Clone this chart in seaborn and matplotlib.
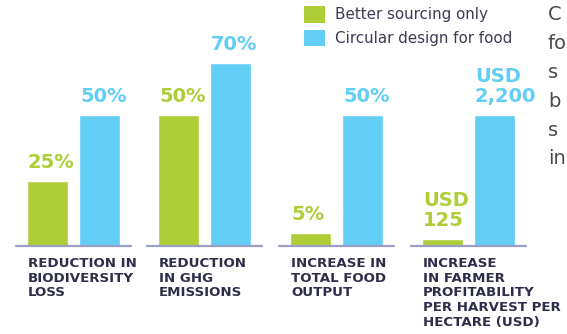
import matplotlib
matplotlib.use("Agg")
import matplotlib.pyplot as plt
from matplotlib.patches import Patch
import seaborn as sns
import pandas as pd

# ---- data ----
categories = [
    "REDUCTION IN\nBIODIVERSITY\nLOSS",
    "REDUCTION\nIN GHG\nEMISSIONS",
    "INCREASE IN\nTOTAL FOOD\nOUTPUT",
    "INCREASE\nIN FARMER\nPROFITABILITY\nPER HARVEST PER\nHECTARE (USD)",
]
series = ["Better sourcing only", "Circular design for food"]
better = [25, 50, 5, 125]
circular = [50, 70, 50, 2200]
better_labels = ["25%", "50%", "5%", "USD\n125"]
circular_labels = ["50%", "70%", "50%", "USD\n2,200"]
side_text = ["C", "fo", "s", "b", "s", "in"]

GREEN = "#AFCD37"
BLUE = "#62CDF5"
NAVY = "#2F2E4A"
LINE = "#9B9EC4"
palette = {series[0]: GREEN, series[1]: BLUE}

sns.set_theme(style="white")
plt.rcParams["font.family"] = ["DejaVu Sans"]

W, H = 567, 334
fig = plt.figure(figsize=(W / 100, H / 100), dpi=100)
fig.patch.set_facecolor("white")

ax_left_px = [16, 147, 279, 411]
ax_w_px = 115
base_px = 246  # baseline, pixels from top
ax_h_px = 220
bw = 0.79

for i, cat in enumerate(categories):
    ax = fig.add_axes([ax_left_px[i] / W, (H - base_px) / H, ax_w_px / W, ax_h_px / H])
    df = pd.DataFrame({"series": series, "value": [better[i], circular[i]]})
    sns.barplot(data=df, x="series", y="value", hue="series", palette=palette,
                width=bw, ax=ax, legend=False, saturation=1)
    ax.set_xlim(-0.606, 1.606)
    ref = 50 if i < 3 else 2200
    ax.set_ylim(0, ref * ax_h_px / 131.0)
    ax.axhline(0, color=LINE, lw=1.6, clip_on=False, zorder=5)
    for s in ax.spines.values():
        s.set_visible(False)
    ax.set_xticks([])
    ax.set_yticks([])
    ax.set_xlabel("")
    ax.set_ylabel("")
    ax.set_facecolor("none")
    for j, (val, lab, col) in enumerate([(better[i], better_labels[i], GREEN),
                                         (circular[i], circular_labels[i], BLUE)]):
        ax.annotate(lab, xy=(j - bw / 2, val), xytext=(1, 9), textcoords="offset pixels",
                    ha="left", va="bottom", fontsize=14, fontweight="bold", color=col,
                    linespacing=1.05)
    ax.annotate(cat, xy=(-bw / 2, 0), xytext=(1, -11), textcoords="offset pixels",
                ha="left", va="top", fontsize=9.6, fontweight="bold", color=NAVY,
                linespacing=1.17, annotation_clip=False)

handles = [Patch(facecolor=GREEN, edgecolor="none"), Patch(facecolor=BLUE, edgecolor="none")]
leg = fig.legend(handles, series, loc="upper left", bbox_to_anchor=(304 / W, 1 - 6 / H),
                 frameon=False, fontsize=10.9, handlelength=1.38, handleheight=1.32,
                 labelspacing=0.45, handletextpad=0.65, borderpad=0, borderaxespad=0)
for t in leg.get_texts():
    t.set_color("#3D3B52")

fig.text(548 / W, 1 - 5 / H, "\n".join(side_text), ha="left", va="top",
         fontsize=14, color="#4A4A4A", linespacing=1.66)

fig.savefig("out.png", dpi=100)
